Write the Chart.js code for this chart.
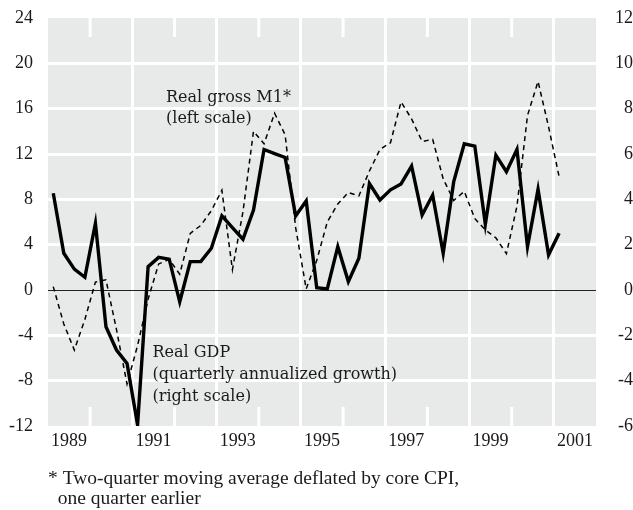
<!DOCTYPE html>
<html lang="en">
<head>
<meta charset="utf-8">
<title>Real GDP and real gross M1</title>
<script src="https://cdn.jsdelivr.net/npm/chart.js@4.4.0/dist/chart.umd.min.js"></script>
<style>
  html, body { margin: 0; padding: 0; background: #fff; }
</style>
</head>
<body>
<canvas id="chart" width="633" height="510"></canvas>
<script>
// quarterly observations, 1989Q1 - 2001Q1
const quarters = [
  '1989Q1','1989Q2','1989Q3','1989Q4','1990Q1','1990Q2','1990Q3','1990Q4',
  '1991Q1','1991Q2','1991Q3','1991Q4','1992Q1','1992Q2','1992Q3','1992Q4',
  '1993Q1','1993Q2','1993Q3','1993Q4','1994Q1','1994Q2','1994Q3','1994Q4',
  '1995Q1','1995Q2','1995Q3','1995Q4','1996Q1','1996Q2','1996Q3','1996Q4',
  '1997Q1','1997Q2','1997Q3','1997Q4','1998Q1','1998Q2','1998Q3','1998Q4',
  '1999Q1','1999Q2','1999Q3','1999Q4','2000Q1','2000Q2','2000Q3','2000Q4',
  '2001Q1'
];

// real GDP, quarterly annualized growth (right scale)
const gdpGrowth = [
  4.27, 1.62, 0.92, 0.56, 2.94, -1.62, -2.65, -3.24,
  -5.95, 1.03, 1.44, 1.36, -0.52, 1.25, 1.25, 1.84,
  3.27, 2.75, 2.24, 3.53, 6.20, 6.02, 5.85, 3.27,
  3.93, 0.10, 0.05, 1.91, 0.37, 1.40, 4.70, 3.97,
  4.42, 4.68, 5.47, 3.31, 4.19, 1.62, 4.78, 6.45,
  6.35, 2.90, 5.95, 5.22, 6.20, 1.91, 4.44, 1.55,
  2.50
];

// real gross M1 (left scale)
const grossM1 = [
  0.3, -3.0, -5.3, -2.6, 0.7, 0.9, -3.5, -8.3,
  -4.9, -0.8, 2.3, 2.7, 1.4, 5.0, 5.7, 7.0,
  8.8, 1.8, 6.9, 14.0, 12.9, 15.6, 13.7, 5.5,
  0.1, 2.6, 6.0, 7.6, 8.6, 8.3, 10.5, 12.4,
  13.0, 16.6, 15.1, 13.1, 13.3, 9.8, 7.9, 8.7,
  6.3, 5.3, 4.6, 3.2, 7.4, 15.4, 18.4, 14.4,
  10.0
];

const yearLabels = ['1989', '1991', '1993', '1995', '1997', '1999', '2001'];
const gridYears = [1991, 1993, 1995, 1997, 1999, 2001];
const shortTickYears = [1990, 1992, 1994, 1996, 1998, 2000];

const m1Note = ['Real gross M1*', '(left scale)'];
const gdpNote = ['Real GDP', '(quarterly annualized growth)', '(right scale)'];
const footnote = ['* Two-quarter moving average deflated by core CPI,', '  one quarter earlier'];

function quarterToX(q) {
  const year = parseInt(q.slice(0, 4));
  const n = parseInt(q.slice(5));
  return year + (n - 0.5) / 4;
}

const tickFont = { family: 'Liberation Serif', size: 18 };
const ink = '#1a1a1a';

const plotExtras = {
  id: 'plotExtras',
  beforeDraw(chart) {
    const { ctx, chartArea: a } = chart;
    ctx.save();
    ctx.fillStyle = '#e8eae9';
    ctx.fillRect(a.left, a.top, a.right - a.left, a.bottom - a.top);
    ctx.restore();
  },
  beforeDatasetsDraw(chart) {
    const { ctx, chartArea: a, scales } = chart;
    ctx.save();
    ctx.strokeStyle = '#fff';
    ctx.lineWidth = 3;
    shortTickYears.forEach(yr => {
      const px = scales.x.getPixelForValue(yr);
      ctx.beginPath();
      ctx.moveTo(px, a.top);
      ctx.lineTo(px, a.top + 19);
      ctx.moveTo(px, a.bottom - 19);
      ctx.lineTo(px, a.bottom);
      ctx.stroke();
    });
    ctx.restore();
  },
  afterDraw(chart) {
    const { ctx, scales } = chart;
    ctx.save();
    ctx.fillStyle = ink;
    ctx.textBaseline = 'alphabetic';
    ctx.font = '16px "DejaVu Serif"';
    let x = scales.x.getPixelForValue(1991.8);
    let y = scales.y.getPixelForValue(16.6);
    m1Note.forEach((t, i) => ctx.fillText(t, x, y + i * 21));
    x = scales.x.getPixelForValue(1991.48);
    y = scales.y.getPixelForValue(-5.9);
    gdpNote.forEach((t, i) => ctx.fillText(t, x, y + i * 22));
    ctx.font = '19.5px "Liberation Serif"';
    footnote.forEach((t, i) => ctx.fillText(t, 48, 484 + i * 20));
    ctx.restore();
  }
};

new Chart(document.getElementById('chart'), {
  type: 'line',
  data: {
    datasets: [
      {
        label: 'Real GDP',
        data: quarters.map((q, i) => ({ x: quarterToX(q), y: gdpGrowth[i] })),
        yAxisID: 'y1',
        borderColor: '#000',
        borderWidth: 3.4,
        borderJoinStyle: 'miter',
        pointRadius: 0,
        tension: 0
      },
      {
        label: 'Real gross M1',
        data: quarters.map((q, i) => ({ x: quarterToX(q), y: grossM1[i] })),
        yAxisID: 'y',
        borderColor: '#000',
        borderWidth: 1.5,
        borderDash: [5, 4],
        pointRadius: 0,
        tension: 0
      }
    ]
  },
  options: {
    responsive: false,
    animation: false,
    layout: { padding: { top: 18, left: 0, right: 0, bottom: 0 } },
    plugins: { legend: { display: false }, tooltip: { enabled: false } },
    scales: {
      x: {
        type: 'linear', position: 'bottom', min: 1989, max: 2002, z: -1,
        afterBuildTicks: s => { s.ticks = gridYears.map(v => ({ value: v })); },
        ticks: { display: false },
        grid: { color: '#fff', lineWidth: 3, drawTicks: false },
        border: { display: false },
        afterFit: s => { s.height = 0; }
      },
      xLabels: {
        type: 'linear', position: 'bottom', min: 1989, max: 2002,
        afterBuildTicks: s => { s.ticks = yearLabels.map(v => ({ value: +v + 0.5 })); },
        ticks: {
          font: tickFont, color: ink, padding: 4, maxRotation: 0, autoSkip: false,
          callback: (v, i) => yearLabels[i]
        },
        grid: { display: false, drawTicks: false },
        border: { display: false },
        afterFit: s => { s.height = 84; }
      },
      y: {
        position: 'left', min: -12, max: 24,
        ticks: { stepSize: 4, font: tickFont, color: ink, padding: 0 },
        grid: {
          drawTicks: true, tickLength: 15, tickColor: 'rgba(0,0,0,0)',
          color: c => c.tick.value === 0 ? '#222' : (c.tick.value === 24 || c.tick.value === -12 ? 'rgba(0,0,0,0)' : '#fff'),
          lineWidth: c => c.tick.value === 0 ? 1 : 3
        },
        border: { display: false },
        afterFit: s => { s.width = 48; }
      },
      y1: {
        position: 'right', min: -6, max: 12,
        ticks: { stepSize: 2, font: tickFont, color: ink, padding: 0, crossAlign: 'far' },
        grid: {
          drawOnChartArea: false, drawTicks: true, tickLength: 17,
          color: 'rgba(0,0,0,0)', tickColor: 'rgba(0,0,0,0)'
        },
        border: { display: false },
        afterFit: s => { s.width = 37; }
      }
    }
  },
  plugins: [plotExtras]
});
</script>
</body>
</html>
